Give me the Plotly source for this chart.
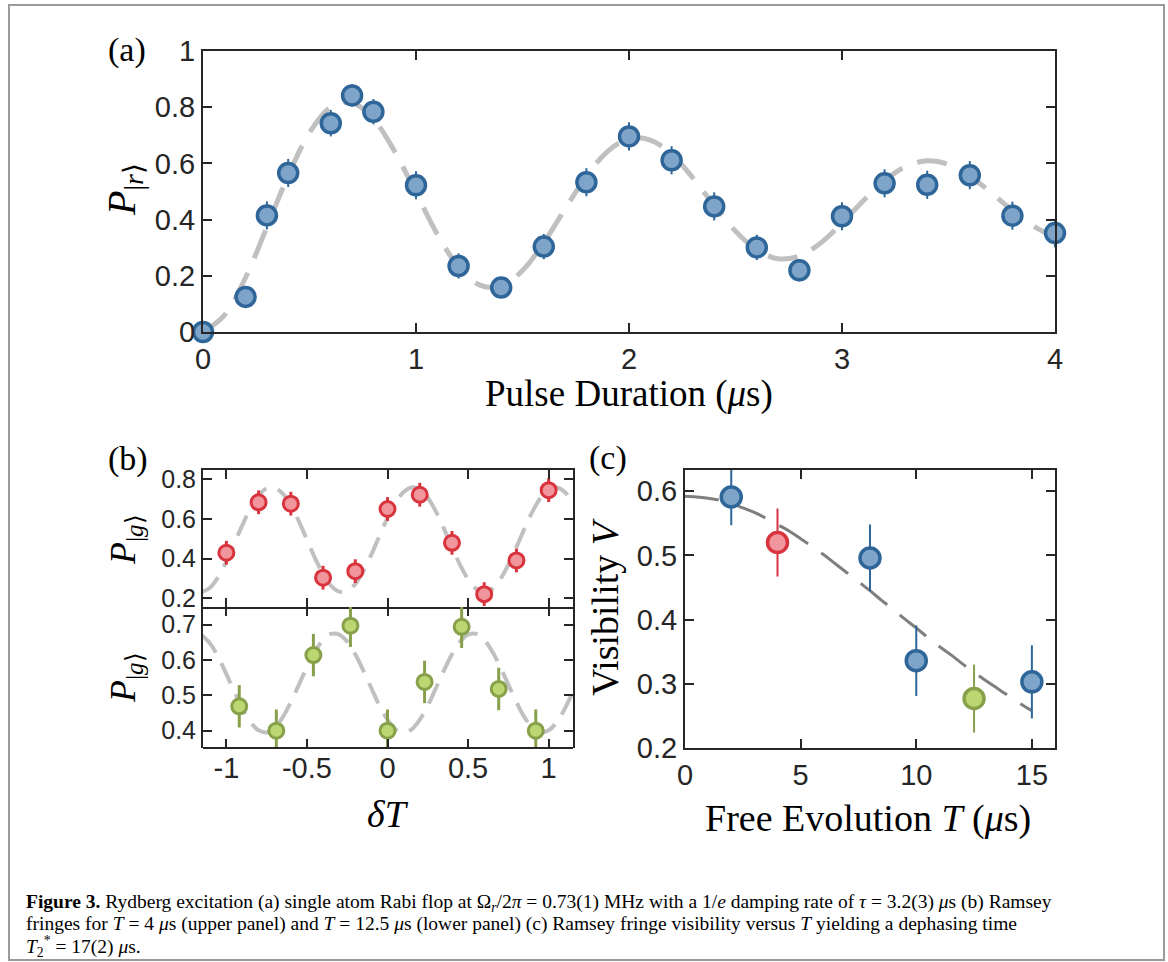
import plotly.graph_objects as go

W, H = 1168, 962

# ---------------- Panel (a): Rabi flop ----------------
a_t = [0.0, 0.2, 0.3, 0.4, 0.6, 0.7, 0.8, 1.0, 1.2, 1.4, 1.6, 1.8,
       2.0, 2.2, 2.4, 2.6, 2.8, 3.0, 3.2, 3.4, 3.6, 3.8, 4.0]
a_p = [0.0, 0.125, 0.415, 0.566, 0.743, 0.842, 0.784, 0.522, 0.235, 0.158, 0.304, 0.533,
       0.696, 0.611, 0.447, 0.301, 0.220, 0.412, 0.529, 0.524, 0.558, 0.414, 0.352]
a_err = [0.0, 0.03, 0.05, 0.05, 0.047, 0.04, 0.045, 0.05, 0.045, 0.035, 0.045, 0.05,
         0.05, 0.05, 0.05, 0.045, 0.04, 0.05, 0.05, 0.05, 0.05, 0.05, 0.05]
a_fit_t = [i / 10 for i in range(41)]
a_fit_p = [0.0, 0.059, 0.194, 0.373, 0.557, 0.709, 0.800, 0.816, 0.758, 0.642,
           0.495, 0.348, 0.232, 0.167, 0.163, 0.219, 0.318, 0.438, 0.554, 0.643,
           0.688, 0.683, 0.634, 0.548, 0.450, 0.359, 0.292, 0.261, 0.271, 0.317,
           0.388, 0.467, 0.539, 0.589, 0.609, 0.596, 0.555, 0.496, 0.432, 0.376, 0.339]

# ---------------- Panel (b): Ramsey fringes ----------------
b_red_x = [-1.0, -0.8, -0.6, -0.4, -0.2, 0.0, 0.2, 0.4, 0.6, 0.8, 1.0]
b_red_y = [0.429, 0.684, 0.677, 0.303, 0.336, 0.650, 0.722, 0.479, 0.220, 0.390, 0.745]
b_red_err = [0.06] * 11
b_green_x = [-0.92, -0.69, -0.46, -0.23, 0.0, 0.23, 0.46, 0.69, 0.92]
b_green_y = [0.469, 0.400, 0.614, 0.697, 0.400, 0.538, 0.694, 0.518, 0.400]
b_green_err = [0.06] * 9
b_fit_x = [round(-1.15 + 0.05 * i, 2) for i in range(47)]
b_red_fit = [0.231, 0.254, 0.308, 0.385, 0.476, 0.570, 0.654, 0.718, 0.754, 0.757,
             0.728, 0.668, 0.588, 0.495, 0.402, 0.322, 0.262, 0.233, 0.236, 0.272,
             0.336, 0.420, 0.514, 0.605, 0.682, 0.736, 0.759, 0.749, 0.707, 0.638,
             0.551, 0.457, 0.368, 0.295, 0.247, 0.230, 0.247, 0.295, 0.368, 0.457,
             0.551, 0.638, 0.707, 0.749, 0.759, 0.736, 0.682]
b_green_fit = [0.669, 0.646, 0.608, 0.560, 0.510, 0.462, 0.424, 0.401, 0.395, 0.408,
               0.438, 0.481, 0.530, 0.580, 0.624, 0.657, 0.674, 0.672, 0.652, 0.616,
               0.570, 0.520, 0.471, 0.431, 0.404, 0.395, 0.404, 0.431, 0.471, 0.520,
               0.570, 0.616, 0.652, 0.672, 0.674, 0.657, 0.624, 0.580, 0.530, 0.481,
               0.438, 0.408, 0.395, 0.401, 0.424, 0.462, 0.510]

# ---------------- Panel (c): visibility ----------------
c_blue_T = [2, 8, 10, 15]
c_blue_V = [0.591, 0.496, 0.336, 0.303]
c_blue_err = [0.044, 0.052, 0.055, 0.057]
c_red_T = [4]
c_red_V = [0.520]
c_red_err = [0.053]
c_green_T = [12.5]
c_green_V = [0.277]
c_green_err = [0.053]
c_fit_T = [i * 0.5 for i in range(31)]
c_fit_V = [0.592, 0.591, 0.589, 0.586, 0.581, 0.574, 0.567, 0.558, 0.548, 0.538,
           0.526, 0.514, 0.501, 0.487, 0.473, 0.459, 0.445, 0.430, 0.416, 0.401,
           0.387, 0.372, 0.358, 0.345, 0.331, 0.318, 0.305, 0.293, 0.281, 0.269, 0.258]

# ---------------- styles ----------------
BLUE_F, BLUE_E = "#7fa4c9", "#2f6699"
RED_F, RED_E = "#f0969c", "#d9343e"
GRN_F, GRN_E = "#bcd672", "#87a04a"
AX = "#262626"
SANS = "Liberation Sans, Arial, sans-serif"
SERIF = "Liberation Serif, Times New Roman, serif"


def px(x):
    return x / W


def py(y):
    return 1 - y / H


fig = go.Figure()

# (a)
fig.add_trace(go.Scatter(x=a_fit_t, y=a_fit_p, mode="lines", line_shape="spline",
                         line=dict(color="#c0c0c0", width=5, dash="30px,16px"),
                         xaxis="x", yaxis="y", hoverinfo="skip"))
fig.add_trace(go.Scatter(x=a_t, y=a_p, mode="markers", cliponaxis=False,
                         error_y=dict(type="data", array=a_err, color=BLUE_E, thickness=2, width=0),
                         marker=dict(size=19, color=BLUE_F, line=dict(color=BLUE_E, width=3.5)),
                         xaxis="x", yaxis="y"))

# (b) top
fig.add_trace(go.Scatter(x=b_fit_x, y=b_red_fit, mode="lines", line_shape="spline",
                         line=dict(color="#c0c0c0", width=4, dash="22px,12px"),
                         xaxis="x2", yaxis="y2", hoverinfo="skip"))
fig.add_trace(go.Scatter(x=b_red_x, y=b_red_y, mode="markers",
                         error_y=dict(type="data", array=b_red_err, color=RED_E, thickness=3, width=0),
                         marker=dict(size=15, color=RED_F, line=dict(color=RED_E, width=3)),
                         xaxis="x2", yaxis="y2"))
# (b) bottom
fig.add_trace(go.Scatter(x=b_fit_x, y=b_green_fit, mode="lines", line_shape="spline",
                         line=dict(color="#c0c0c0", width=4, dash="22px,12px"),
                         xaxis="x3", yaxis="y3", hoverinfo="skip"))
fig.add_trace(go.Scatter(x=b_green_x, y=b_green_y, mode="markers",
                         error_y=dict(type="data", array=b_green_err, color=GRN_E, thickness=3, width=0),
                         marker=dict(size=15, color=GRN_F, line=dict(color=GRN_E, width=3)),
                         xaxis="x3", yaxis="y3"))

# (c)
fig.add_trace(go.Scatter(x=c_fit_T, y=c_fit_V, mode="lines", line_shape="spline",
                         line=dict(color="#7f7f7f", width=3, dash="34px,16px"),
                         xaxis="x4", yaxis="y4", hoverinfo="skip"))
for xs, ys, es, fc, ec in [(c_blue_T, c_blue_V, c_blue_err, BLUE_F, BLUE_E),
                           (c_red_T, c_red_V, c_red_err, RED_F, RED_E),
                           (c_green_T, c_green_V, c_green_err, GRN_F, GRN_E)]:
    fig.add_trace(go.Scatter(x=xs, y=ys, mode="markers",
                             error_y=dict(type="data", array=es, color=ec, thickness=2, width=0),
                             marker=dict(size=20, color=fc, line=dict(color=ec, width=3.5)),
                             xaxis="x4", yaxis="y4"))


def axis(domain, rng, tickvals, ticktext=None, anchor=None, size=29, showlabels=True,
         mirror="ticks", showline=True):
    d = dict(domain=domain, range=rng, tickvals=tickvals, showgrid=False, zeroline=False,
             showline=showline, linecolor=AX, linewidth=2, mirror=mirror, ticks="inside",
             ticklen=9, tickwidth=2, tickcolor=AX, showticklabels=showlabels,
             automargin=False, fixedrange=True,
             tickfont=dict(family=SANS, size=size, color=AX), anchor=anchor)
    if ticktext is not None:
        d["ticktext"] = ticktext
    return d


bx_vals = [-1, -0.5, 0, 0.5, 1]
bx_text = ["-1", "-0.5", "0", "0.5", "1"]

fig.update_layout(
    template="none",
    width=W, height=H, margin=dict(l=0, r=0, t=0, b=0, pad=0), autosize=False,
    paper_bgcolor="white", plot_bgcolor="white", showlegend=False,
    xaxis=axis([px(203), px(1055)], [0, 4], [0, 1, 2, 3, 4], anchor="y"),
    yaxis=axis([py(332), py(51)], [0, 1], [0, 0.2, 0.4, 0.6, 0.8, 1],
               ["0", "0.2", "0.4", "0.6", "0.8", "1"], anchor="x"),
    xaxis2=axis([px(203), px(573)], [-1.145, 1.151], bx_vals, bx_text, anchor="y2",
                showlabels=False),
    yaxis2=axis([py(607), py(470)], [0.155, 0.847], [0.2, 0.4, 0.6, 0.8],
                ["0.2", "0.4", "0.6", "0.8"], anchor="x2", size=25),
    xaxis3=axis([px(203), px(573)], [-1.145, 1.151], bx_vals, bx_text, anchor="y3",
                showline=False),
    yaxis3=axis([py(748), py(607)], [0.351, 0.75], [0.4, 0.5, 0.6, 0.7],
                ["0.4", "0.5", "0.6", "0.7"], anchor="x3", size=25),
    xaxis4=axis([px(685), px(1055)], [0, 16], [0, 5, 10, 15], anchor="y4"),
    yaxis4=axis([py(748), py(470)], [0.2, 0.633], [0.2, 0.3, 0.4, 0.5, 0.6],
                ["0.2", "0.3", "0.4", "0.5", "0.6"], anchor="x4"),
)

ann = []


def text(x, y, t, size, angle=0, family=SERIF, xanchor="center", color="black"):
    ann.append(dict(x=px(x), y=py(y), xref="paper", yref="paper", text=t, showarrow=False,
                    textangle=angle, xanchor=xanchor, yanchor="middle",
                    font=dict(family=family, size=size, color=color)))


# panel labels
text(127, 50, "(a)", 34)
text(128, 459, "(b)", 34)
text(608, 458, "(c)", 34)
# axis titles
text(629, 394, "Pulse Duration (<i>μ</i>s)", 37)
text(124, 190, "<i>P</i><sub>|<i>r</i>⟩</sub>", 40, angle=-90)
text(125, 540, "<i>P</i><sub>|<i>g</i>⟩</sub>", 36, angle=-90)
text(125, 678, "<i>P</i><sub>|<i>g</i>⟩</sub>", 36, angle=-90)
text(388, 814, "<i>δT</i>", 38)
text(868, 818, "Free Evolution <i>T</i> (<i>μ</i>s)", 38)
text(605, 607, "Visibility <i>V</i>", 38, angle=-90)

# caption
cap1 = ("<b>Figure 3.</b> Rydberg excitation (a) single atom Rabi flop at Ω<sub><i>r</i></sub>/2<i>π</i> = 0.73(1) MHz "
        "with a 1/<i>e</i> damping rate of <i>τ</i> = 3.2(3) <i>μ</i>s (b) Ramsey")
cap2 = ("fringes for <i>T</i> = 4 <i>μ</i>s (upper panel) and <i>T</i> = 12.5 <i>μ</i>s (lower panel) "
        "(c) Ramsey fringe visibility versus <i>T</i> yielding a dephasing time")
cap3 = "<i>T</i><sub>2</sub><sup>*</sup> = 17(2) <i>μ</i>s."
text(24, 903, cap1, 19.5, xanchor="left")
text(24, 924, cap2, 19.5, xanchor="left")
text(24, 946, cap3, 19.5, xanchor="left")

fig.update_layout(annotations=ann)

# bottom line of panel (b) lower subplot
fig.add_shape(type="line", xref="x3 domain", yref="y3 domain", x0=0, x1=1, y0=0, y1=0,
              line=dict(color=AX, width=2))
# outer frame
fig.add_shape(type="rect", xref="paper", yref="paper", x0=px(9), x1=px(1164), y0=py(960), y1=py(5),
              line=dict(color="#9a9a9a", width=2), fillcolor="rgba(0,0,0,0)")

fig.write_html("out.html", config={"displayModeBar": False},
               post_script="document.body.style.margin='0';document.body.style.padding='0';"
                           "document.body.style.overflow='hidden';")
